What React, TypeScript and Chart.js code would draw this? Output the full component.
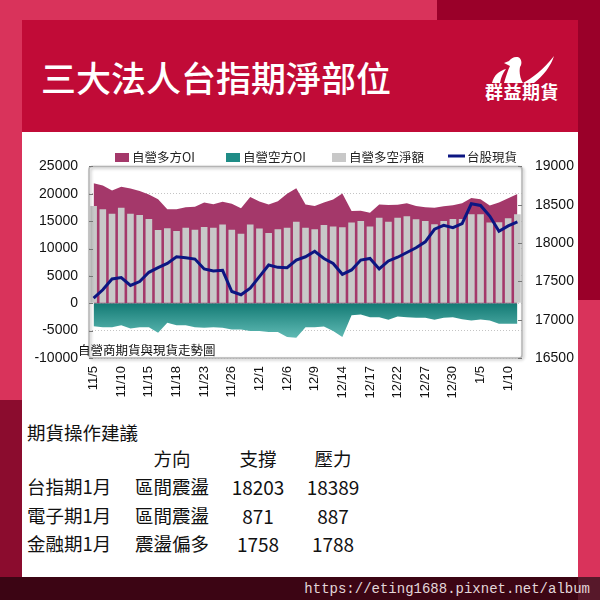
import React, { useEffect, useRef } from 'react';
import { Chart, registerables } from 'chart.js';
Chart.register(...registerables);

// ---------- data ----------
const dates = ['11/5','11/8','11/9','11/10','11/11','11/12','11/15','11/16','11/17','11/18','11/19','11/22','11/23','11/24','11/25','11/26','11/29','11/30','12/1','12/2','12/3','12/6','12/7','12/8','12/9','12/10','12/13','12/14','12/15','12/16','12/17','12/20','12/21','12/22','12/23','12/24','12/27','12/28','12/29','12/30','1/3','1/4','1/5','1/6','1/7','1/10','1/11'];

const longOI = [21900,21500,20600,21300,20950,20500,19850,19000,17150,17150,17550,17650,18400,18100,18550,18200,17350,19400,18600,18050,18650,20000,21000,18050,17750,18400,18950,20050,16850,16900,16550,18050,17950,18000,18250,17750,17550,17450,17700,17900,18250,19250,19000,17850,18400,19200,19950];

const shortOI = [-4180,-4360,-4360,-4000,-4610,-4360,-4360,-5400,-3580,-4000,-4000,-4360,-4480,-4360,-4480,-4790,-4790,-5090,-5090,-5270,-5270,-6180,-6300,-4360,-4360,-4240,-5090,-6180,-2180,-2060,-2545,-2545,-3030,-2420,-2545,-2670,-2670,-3030,-2670,-2545,-2910,-3150,-2970,-3150,-3760,-3760,-3760];

const netOI = [17750,17150,16360,17450,16360,16120,15400,13400,13700,13200,13800,13450,13950,13800,14400,13450,12700,14400,13640,12850,13500,13800,14900,13800,13500,14300,14000,13880,14730,15030,14000,15640,14900,15640,15880,15330,15030,14420,15030,15400,15400,16240,16240,14730,14790,15520,16240];

const spot = [17281,17390,17532,17549,17446,17497,17618,17679,17734,17821,17808,17791,17662,17636,17644,17368,17325,17411,17562,17714,17683,17679,17779,17821,17892,17799,17734,17592,17649,17778,17799,17662,17766,17815,17877,17938,18016,18180,18232,18201,18253,18512,18491,18352,18154,18223,18275];

const seriesLabels = ['自營多方OI', '自營空方OI', '自營多空淨額', '台股現貨'];
const leftRange = [-10000, 25000, 5000];
const rightRange = [16500, 19000, 500];

const titleText = '三大法人台指期淨部位';
const brandText = '群益期貨';
const chartSubtitle = '自營商期貨與現貨走勢圖';
const tableTitle = '期貨操作建議';
const tableHeaders = ['方向', '支撐', '壓力'];
const contracts = ['台指期1月', '電子期1月', '金融期1月'];
const directions = ['區間震盪', '區間震盪', '震盪偏多'];
const supports = ['18203', '871', '1758'];
const resistances = ['18389', '887', '1788'];
const urlText = 'https://eting1688.pixnet.net/album';

// ---------- styles ----------
const PLUM = '#a4386a';
const TEAL = '#1f8c86';
const GRAY = '#c8c8c8';
const NAVY = '#0c1682';
const CJK = '"Noto Sans CJK TC", "Noto Sans", sans-serif';

const legendPlugin = {
  id: 'customLegend',
  afterDraw(chart: any) {
    const ctx = chart.ctx;
    const xs = [93, 204, 310, 426];
    const colors = [PLUM, TEAL, GRAY, NAVY];
    ctx.save();
    ctx.font = '12.5px ' + CJK;
    ctx.textBaseline = 'middle';
    ctx.fillStyle = '#222';
    chart.data.datasets.forEach((ds: any, i: number) => {
      const x = xs[i];
      if (i === 3) {
        ctx.strokeStyle = colors[i];
        ctx.lineWidth = 3;
        ctx.beginPath();
        ctx.moveTo(x, 11);
        ctx.lineTo(x + 17, 11);
        ctx.stroke();
        ctx.fillStyle = '#222';
        ctx.fillText(ds.label, x + 19, 12);
      } else {
        ctx.fillStyle = colors[i];
        ctx.fillRect(x, 8, 14, 9);
        ctx.fillStyle = '#222';
        ctx.fillText(ds.label, x + 17, 12);
      }
    });
    // subtitle
    ctx.font = '12.5px ' + CJK;
    ctx.fillStyle = '#111';
    ctx.fillText(chartSubtitle, 56, 205);
    ctx.restore();
  },
};

const framePlugin = {
  id: 'frame',
  afterDatasetsDraw(chart: any) {
    const ctx = chart.ctx;
    const { left, top, right, bottom } = chart.chartArea;
    ctx.save();
    ctx.shadowColor = 'rgba(0,0,0,0.28)';
    ctx.shadowBlur = 3;
    ctx.shadowOffsetX = 1.5;
    ctx.shadowOffsetY = 1.5;
    ctx.strokeStyle = '#b4b4b4';
    ctx.lineWidth = 1.5;
    ctx.beginPath();
    (ctx as any).roundRect(left, top, right - left, bottom - top, 3);
    ctx.stroke();
    ctx.restore();
    ctx.save();
    ctx.strokeStyle = '#777';
    ctx.lineWidth = 1;
    const y = chart.scales.y;
    y.ticks.forEach((t: any) => {
      const p = Math.round(y.getPixelForValue(t.value)) + 0.5;
      ctx.beginPath(); ctx.moveTo(left, p); ctx.lineTo(left + 4, p); ctx.stroke();
    });
    const y1 = chart.scales.y1;
    y1.ticks.forEach((t: any) => {
      const p = Math.round(y1.getPixelForValue(t.value)) + 0.5;
      ctx.beginPath(); ctx.moveTo(right, p); ctx.lineTo(right - 4, p); ctx.stroke();
    });
    ctx.restore();
  },
};

function tealFill(c: any) {
  const chart = c.chart;
  if (!chart.chartArea || !chart.scales.y) return TEAL;
  const y = chart.scales.y;
  const g = chart.ctx.createLinearGradient(0, y.getPixelForValue(0), 0, y.getPixelForValue(-6500));
  g.addColorStop(0, '#137a74');
  g.addColorStop(1, '#62bcb6');
  return g;
}

export default function App() {
  const ref = useRef<HTMLCanvasElement>(null);

  useEffect(() => {
    const chart = new Chart(ref.current as HTMLCanvasElement, {
      type: 'bar',
      data: {
        labels: dates,
        datasets: [
          {
            type: 'line', label: seriesLabels[0], data: longOI, yAxisID: 'y',
            fill: 'origin', backgroundColor: PLUM, borderColor: 'rgba(0,0,0,0)',
            borderWidth: 0, pointRadius: 0, tension: 0, order: 3,
          } as any,
          {
            type: 'line', label: seriesLabels[1], data: shortOI, yAxisID: 'y',
            fill: 'origin', backgroundColor: tealFill, borderColor: 'rgba(0,0,0,0)',
            borderWidth: 0, pointRadius: 0, tension: 0, order: 3,
          } as any,
          {
            type: 'bar', label: seriesLabels[2], data: netOI, yAxisID: 'y',
            backgroundColor: GRAY, barPercentage: 0.72, categoryPercentage: 1, order: 2,
          } as any,
          {
            type: 'line', label: seriesLabels[3], data: spot, yAxisID: 'y1',
            borderColor: NAVY, borderWidth: 3, pointRadius: 0, tension: 0, fill: false, order: 1,
          } as any,
        ],
      },
      options: {
        animation: false,
        responsive: false,
        devicePixelRatio: 1,
        events: [],
        layout: { padding: { top: 19, left: 0, right: 0, bottom: 0 } },
        plugins: { legend: { display: false }, tooltip: { enabled: false } },
        scales: {
          x: {
            offset: true,
            grid: { display: false, drawTicks: false },
            border: { display: false },
            ticks: {
              autoSkip: false, maxRotation: 90, minRotation: 90, padding: 8,
              color: '#111', font: { family: 'Liberation Sans', size: 13 },
              callback: (_v: any, i: number) => (i % 3 === 0 ? dates[i] : ''),
            },
            afterFit: (s: any) => { s.height = 52; },
          },
          y: {
            position: 'left',
            min: leftRange[0], max: leftRange[1],
            grid: { color: '#c4c4c4', drawTicks: false, tickBorderDash: [1, 2] } as any,
            border: { display: false, dash: [1, 2] },
            ticks: {
              stepSize: leftRange[2], padding: 11, color: '#111',
              font: { family: 'Liberation Sans', size: 14 },
              callback: (v: any) => String(v),
            },
            afterFit: (s: any) => { s.width = 67; },
          },
          y1: {
            position: 'right',
            min: rightRange[0], max: rightRange[1],
            grid: { display: false, drawTicks: false },
            border: { display: false },
            ticks: {
              stepSize: rightRange[2], padding: 13, color: '#111',
              font: { family: 'Liberation Sans', size: 14 },
              callback: (v: any) => String(v),
            },
            afterFit: (s: any) => { s.width = 56; },
          },
        },
      },
      plugins: [framePlugin, legendPlugin],
    } as any);
    return () => chart.destroy();
  }, []);

  const abs = (extra: any): any => ({ position: 'absolute', ...extra });
  const centered = (text: string, x: number, y: number, size: number, key?: any) => (
    <div key={key} style={abs({ left: x, top: y, transform: 'translate(-50%,-50%)', fontSize: size, lineHeight: 1, whiteSpace: 'nowrap', color: '#111' })}>{text}</div>
  );
  const leftText = (text: string, x: number, y: number, size: number, key?: any) => (
    <div key={key} style={abs({ left: x, top: y, transform: 'translateY(-50%)', fontSize: size, lineHeight: 1, whiteSpace: 'nowrap', color: '#111' })}>{text}</div>
  );
  const colX = [172, 258, 333];
  const rowY = [486, 515, 543];

  return (
    <div style={abs({ left: 0, top: 0, width: 600, height: 600, overflow: 'hidden', background: '#d9335b', fontFamily: CJK })}>
      <div style={abs({ left: 437, top: 0, width: 163, height: 300, background: '#9a0029' })} />
      <div style={abs({ left: 0, top: 400, width: 22, height: 178, background: '#8b0c2e' })} />
      <div style={abs({ left: 22, top: 20, width: 556, height: 112, background: '#c10b37' })}>
        <div style={abs({ left: 19, top: 39, fontSize: 35, lineHeight: '35px', color: '#fff', fontWeight: 500, whiteSpace: 'nowrap' })}>{titleText}</div>
        <svg style={abs({ left: 470, top: 36, width: 64, height: 28 })} viewBox="0 0 64 28">
          <path fill="#fff" d="M0,27 C2,19 7,15 14,13 C11,17 9,21 8,27 Z" />
          <path fill="#fff" d="M12,27 C14,20 16,14 18,10 C16,9 14,8 12,7 L17,5 C19,2 23,0 27,1.5 C30,3.5 30,8 28,11 C27,16 28,22 31,27 Z" />
          <path fill="#fff" d="M31,27 C40,22 51,14 62,0 C59,10 51,20 42,27 Z" />
        </svg>
        <div style={abs({ left: 463, top: 62, fontSize: 18, lineHeight: '18px', color: '#fff', fontWeight: 700, whiteSpace: 'nowrap', letterSpacing: 0.5 })}>{brandText}</div>
      </div>
      <div style={abs({ left: 22, top: 132, width: 556, height: 446, background: '#fff' })} />
      <div style={abs({ left: 22, top: 145, width: 556, height: 265 })}>
        <canvas ref={ref} width={556} height={265} style={{ width: 556, height: 265, display: 'block' }} />
      </div>
      {leftText(tableTitle, 27, 432, 18.5)}
      {tableHeaders.map((h, i) => centered(h, colX[i], 458, 18.5, 'h' + i))}
      {contracts.map((c, r) => (
        <React.Fragment key={'r' + r}>
          {leftText(c, 27, rowY[r], 18.5)}
          {centered(directions[r], colX[0], rowY[r], 18.5)}
          {centered(supports[r], colX[1], rowY[r], 19)}
          {centered(resistances[r], colX[2], rowY[r], 19)}
        </React.Fragment>
      ))}
      <div style={abs({ left: 0, top: 577, width: 600, height: 23, background: '#3c0514' })} />
      <div style={abs({ left: 578, top: 577, width: 22, height: 23, background: '#57182a' })} />
      <div style={abs({ right: 10, top: 589, transform: 'translateY(-50%)', fontFamily: '"Liberation Mono", monospace', fontSize: 14, lineHeight: 1, color: '#e2d6d9', whiteSpace: 'nowrap' })}>{urlText}</div>
    </div>
  );
}
